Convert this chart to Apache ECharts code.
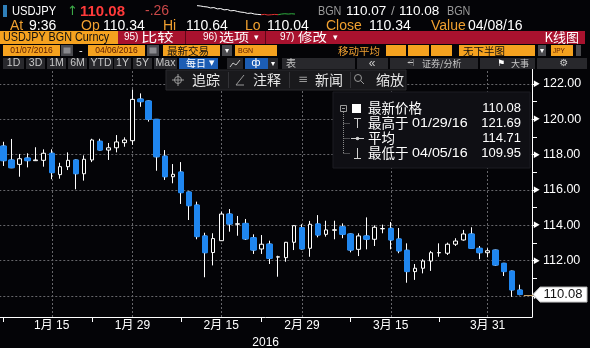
<!DOCTYPE html>
<html><head><meta charset="utf-8">
<script src="https://cdn.jsdelivr.net/npm/echarts@6/dist/echarts.min.js"></script>
<style>html,body{margin:0;padding:0;background:#040407;}#c{width:590px;height:348px;}</style>
</head><body><div id="c"></div>
<script>
// ---- data ----
const dates = ['01/07','01/08','01/11','01/12','01/13','01/14','01/15','01/18','01/19','01/20','01/21','01/22','01/25','01/26','01/27','01/28','01/29',
'02/01','02/02','02/03','02/04','02/05','02/08','02/09','02/10','02/11','02/12','02/15','02/16','02/17','02/18','02/19','02/22','02/23','02/24','02/25','02/26','02/29',
'03/01','03/02','03/03','03/04','03/07','03/08','03/09','03/10','03/11','03/14','03/15','03/16','03/17','03/18','03/21','03/22','03/23','03/24','03/25','03/28','03/29','03/30','03/31',
'04/01','04/04','04/05','04/06'];
const opens  = [118.49,117.70,117.45,117.81,117.66,117.68,118.08,116.87,117.32,117.70,116.92,117.70,118.76,118.26,118.39,118.68,118.79,
121.15,121.04,120.00,117.92,116.75,117.02,115.89,115.15,113.40,112.46,113.13,114.64,114.06,114.11,113.30,112.66,112.94,112.20,112.17,113.04,113.87,
112.70,114.08,113.49,113.72,113.92,113.51,112.64,113.40,113.21,113.80,113.83,113.23,112.59,111.38,111.57,111.98,112.44,112.42,112.93,113.17,113.51,112.70,112.45,
112.60,111.85,111.41,110.34];
const closes = [117.66,117.26,117.77,117.66,117.70,118.08,116.98,117.32,117.68,116.92,117.74,118.83,118.26,118.39,118.72,118.83,121.13,
121.00,120.00,117.88,116.75,116.89,115.85,115.11,113.36,112.45,113.25,114.64,114.07,114.09,113.23,112.60,112.93,112.13,112.22,113.04,113.98,112.66,
114.06,113.45,113.74,113.75,113.49,112.60,113.40,113.21,113.89,113.82,113.17,112.55,111.38,111.57,111.98,112.45,112.46,112.93,113.11,113.51,112.70,112.45,112.56,
111.75,111.38,110.34,110.08];
const lows   = [117.36,117.24,116.75,117.28,117.64,117.32,116.61,116.64,117.13,116.04,116.53,117.58,118.24,117.70,118.13,118.45,118.55,
120.71,119.87,117.09,116.57,116.38,115.21,114.30,113.21,111.06,111.73,113.11,113.64,113.41,113.17,112.38,112.38,111.81,111.09,111.94,112.60,112.64,
112.22,113.32,113.36,113.21,113.27,112.47,112.26,112.64,112.83,113.55,112.64,112.42,110.75,110.91,111.28,111.42,112.22,112.32,112.83,113.13,112.68,112.08,112.19,
111.70,111.13,109.95,110.04];
const highs  = [118.73,118.89,118.04,118.08,118.42,118.30,118.30,117.54,118.13,117.72,117.96,118.90,118.90,118.66,119.11,118.98,121.69,
121.47,121.06,120.02,118.26,117.47,117.58,115.91,115.34,113.58,113.55,114.77,114.92,114.53,114.36,113.49,113.45,113.13,112.28,113.06,114.00,114.06,
114.25,114.58,114.26,114.26,114.11,113.53,113.55,114.45,114.00,114.04,114.19,113.85,112.98,111.81,112.08,112.55,112.98,113.02,113.27,113.74,113.89,112.83,112.70,
112.62,111.87,111.43,110.64];
const yLabelValues = [110,112,114,116,118,120,122];
const yTickValues = [110,111,112,113,114,115,116,117,118,119,120,121,122];
const xLabelDates = ['01/15','01/29','02/15','02/29','03/15','03/31'];
const xLabelTexts = ['1月 15','1月 29','2月 15','2月 29','3月 15','3月 31'];
const xTickDates = ['01/07','01/22','02/08','02/22','03/08','03/23'];
const yearLabel = '2016';
const lastPrice = 110.08;
const legendRows = [
  {name:'最新价格', date:'', value:'110.08'},
  {name:'最高于', date:'01/29/16', value:'121.69'},
  {name:'平均', date:'', value:'114.71'},
  {name:'最低于', date:'04/05/16', value:'109.95'}
];
const sparkWhite = [110.40,110.39,110.37,110.36,110.33,110.34,110.30,110.31,110.27,110.28,110.24,110.25,110.22,110.20,110.19,110.16,110.17,110.14,110.13,110.12,'-','-','-','-','-','-','-','-','-','-'];
const sparkRed   = ['-','-','-','-','-','-','-','-','-','-','-','-','-','-','-','-','-','-','-',110.12,110.13,110.11,110.12,110.13,110.12,'-','-','-','-','-'];
const sparkGreen = ['-','-','-','-','-','-','-','-','-','-','-','-','-','-','-','-','-','-','-','-','-','-','-','-',110.12,110.14,110.15,110.14,110.15,110.14];

// ---- chart ----
const chart = echarts.init(document.getElementById('c'));
const F = "'Liberation Sans','Noto Sans CJK SC',sans-serif";
const CJ = "'Noto Sans CJK SC','Liberation Sans',sans-serif";
const DV = "'DejaVu Sans',sans-serif";
const BLUE = '#1f86ef';
const ORANGE = '#f5a21f';

const candleData = opens.map((o,i)=>[o, closes[i], lows[i], highs[i]]);
const downBodies = opens.map((o,i)=> closes[i] < o ? [o, closes[i], closes[i], o] : '-');
const cats = dates.concat(['']);
const labelIdx = xLabelDates.map(d=>dates.indexOf(d));
const tickIdx = xTickDates.map(d=>dates.indexOf(d));

chart.setOption({
  animation:false,
  backgroundColor:'#040407',
  grid:[
    {left:-0.7, right:58, top:69, bottom:31, outerBoundsMode:'none', containLabel:false},
    {left:197, top:5, width:98, height:11, outerBoundsMode:'none'}
  ],
  xAxis:[{
    type:'category', data:cats, boundaryGap:true,
    axisLine:{show:true, onZero:false, lineStyle:{color:'#ffffff', width:1}},
    axisTick:{show:true, alignWithLabel:true, interval:(i)=>tickIdx.indexOf(i)>=0, length:5, lineStyle:{color:'#ffffff'}},
    axisLabel:{interval:(i)=>labelIdx.indexOf(i)>=0, formatter:(v)=>xLabelTexts[xLabelDates.indexOf(v)]||'', color:'#ffffff', fontSize:12, fontFamily:F, margin:3},
    splitLine:{show:false},
    name:yearLabel, nameLocation:'middle', nameGap:18, nameTextStyle:{color:'#ffffff', fontSize:12, fontFamily:F}
  },{
    type:'category', gridIndex:1, data:sparkWhite.map((v,i)=>i), show:false, boundaryGap:false
  }],
  yAxis:[{
    type:'value', position:'right', min:108.81, max:122.85,
    splitLine:{show:false},
    axisLine:{show:true, lineStyle:{color:'#ffffff', width:1}},
    axisTick:{show:true, customValues:yTickValues, length:5, lineStyle:{color:'#ffffff'}},
    axisLabel:{customValues:yLabelValues, formatter:(v)=>'{a|▶}'+v.toFixed(2), color:'#ffffff', fontSize:12.5, fontFamily:F, margin:1,
      rich:{a:{fontSize:7, color:'#ffffff', padding:[0,3,0,0]}}}
  },{
    type:'value', gridIndex:1, min:110.08, max:110.42, show:false
  }],
  series:[{
    type:'candlestick', name:'A', data:candleData, barWidth:4, z:2,
    itemStyle:{color:'#000000', color0:BLUE, borderColor:'#ffffff', borderColor0:'#ffffff', borderWidth:1},
    emphasis:{disabled:true},
    markLine:{
      silent:true, z:1, symbol:['none','none'], animation:false,
      label:{show:false}, emphasis:{disabled:true},
      lineStyle:{type:[2,2], color:'#66666a', width:1},
      data: yLabelValues.map(v=>({yAxis:v})).concat(xLabelDates.map(d=>({xAxis:d})))
    }
  },{
    type:'candlestick', name:'B', data:downBodies, barWidth:6, z:3,
    itemStyle:{color:BLUE, color0:BLUE, borderColor:BLUE, borderColor0:BLUE, borderWidth:1},
    emphasis:{disabled:true}
  },{
    type:'line', xAxisIndex:1, yAxisIndex:1, data:sparkWhite, symbol:'none', lineStyle:{color:'#ffffff', width:1}
  },{
    type:'line', xAxisIndex:1, yAxisIndex:1, data:sparkRed, symbol:'none', lineStyle:{color:'#e03030', width:1}
  },{
    type:'line', xAxisIndex:1, yAxisIndex:1, data:sparkGreen, symbol:'none', lineStyle:{color:'#30b040', width:1}
  }]
});

// ---- overlay graphics ----
const G = [];
function R(x,y,w,h,fill,stroke){ G.push({type:'rect', shape:{x,y,width:w,height:h}, style:{fill, stroke:stroke||null, lineWidth:1}, z:100}); }
function T(x,y,text,color,size,o){ o=o||{}; G.push({type:'text', x, y, scaleX:o.sx||1, z:101,
  style:{text, fill:color, font:(o.bold?'bold ':'')+size+'px '+(o.ff||F), align:o.align||'left', verticalAlign:'middle'}}); }
function L(x1,y1,x2,y2,c,dash){ G.push({type:'line', shape:{x1,y1,x2,y2}, style:{stroke:c, lineWidth:1, lineDash:dash||null}, z:101}); }

// row 1
R(3,5,4,12,'#2f7fb9');
T(12,11.5,'USDJPY','#ffffff',13,{sx:0.86});
T(67,11.5,'↑','#3daa48',13,{ff:DV});
T(80,11.5,'110.08','#ff3a3a',15,{bold:true});
T(145,11.5,'-.26','#c94848',14);
T(318,11.5,'BGN','#9a9a9a',12,{sx:0.9});
T(346,11.5,'110.07','#ffffff',13.5);
T(391,11.5,'/','#9a9a9a',13.5);
T(399,11.5,'110.08','#ffffff',13.5);
T(447,11.5,'BGN','#9a9a9a',12,{sx:0.9});
// row 2
const OR = '#f0a030';
T(10,26,'At',OR,14); T(29,26,'9:36','#ffffff',14);
T(81,26,'Op',OR,14); T(103,26,'110.34','#ffffff',14);
T(163,26,'Hi',OR,14); T(186,26,'110.64','#ffffff',14);
T(245,26,'Lo',OR,14); T(267,26,'110.04','#ffffff',14);
T(326,26,'Close',OR,14); T(369,26,'110.34','#ffffff',14);
T(431,26,'Value',OR,14); T(468,26,'04/08/16','#ffffff',14);
// row 3
R(0,31,118,13,ORANGE);
T(3,37.5,'USDJPY BGN Curncy','#111111',12,{sx:0.9});
R(118,31,467,13,'#a8122e');
L(185.5,31,185.5,44,'#5e0616'); L(265.5,31,265.5,44,'#5e0616');
T(124,37.5,'95)','#ffffff',10); T(141,37.5,'比较','#ffffff',12.5,{ff:CJ, sx:1.3});
T(203,37.5,'96)','#ffffff',10); T(219,37.5,'选项','#ffffff',12.5,{ff:CJ, sx:1.2}); T(254,37.5,'▾','#ffffff',9,{ff:DV});
T(280,37.5,'97)','#ffffff',10); T(298,37.5,'修改','#ffffff',12.5,{ff:CJ, sx:1.15}); T(333,37.5,'▾','#ffffff',9,{ff:DV});
T(579,37.5,'K线图','#ffffff',13,{ff:CJ, align:'right'});
// row 4
R(3,45,57,11,ORANGE); T(31.5,51,'01/07/2016','#5a1a00',8.5,{align:'center'});
R(61,45,12,11,'#4a4a4e'); R(63.5,47.5,7,6,'#8a8a8e');
T(79,51,'-','#ffffff',11);
R(88,45,57,11,ORANGE); T(116.5,51,'04/06/2016','#5a1a00',8.5,{align:'center'});
R(147,45,12,11,'#4a4a4e'); R(149.5,47.5,7,6,'#8a8a8e');
R(163,45,57,11,ORANGE); T(167,51,'最新交易','#111111',10.5,{ff:CJ});
R(222,45,10,11,'#4a4a4e'); T(227,51,'▾','#ffffff',8,{align:'center', ff:DV});
R(235,45,42,11,ORANGE); T(238,51,'BGN','#5a1a00',7);
T(338,51,'移动平均',OR,10.5,{ff:CJ});
R(386,45,20,11,ORANGE); R(408,45,21,11,ORANGE); R(431,45,21,11,ORANGE);
R(459,45,76,11,ORANGE); T(463,51,'无下半图','#111111',10.5,{ff:CJ});
R(538,45,8,11,'#4a4a4e'); T(542,51,'▾','#ffffff',8,{align:'center', ff:DV});
R(551,45,22,11,ORANGE); T(553,51,'JPY','#5a1a00',6.5);
R(576,45,5,11,'#4a4a4e');
// row 5
const BTN = '#28282c', BT = '#c8c8c8';
[[3,21,'1D'],[26,19,'3D'],[47,19,'1M'],[68,19,'6M'],[89,24,'YTD'],[114,17,'1Y'],[133,19,'5Y'],[154,23,'Max']].forEach(b=>{
  R(b[0],58,b[1],11,BTN); T(b[0]+b[1]/2,63.5,b[2],BT,10.5,{align:'center'});
});
R(179,58,39,11,'#1c5db4'); T(186,63.5,'每日','#ffffff',10,{ff:CJ}); T(209,63.5,'▼','#ffffff',7,{ff:DV});
R(227,58,16,11,BTN); G.push({type:'polyline', shape:{points:[[230,67],[233,63],[236,65],[240,60]]}, style:{stroke:'#c8c8c8', lineWidth:1, fill:null}, z:101});
R(245,58,23,11,'#1c5db4'); T(256,63.5,'ф','#ffffff',11,{align:'center', ff:DV});
R(268,58,10,11,BTN); T(273,63.5,'▾','#ffffff',8,{align:'center', ff:DV});
R(282,58,73,11,BTN); T(286,63.5,'表','#c8c8c8',10,{ff:CJ});
R(357,58,31,11,BTN); T(372,63.5,'«','#c8c8c8',12,{align:'center'});
R(390,58,88,11,BTN); T(407,63.5,'⩤','#c8c8c8',9,{ff:DV}); T(422,63.5,'证券/分析','#c8c8c8',9,{ff:CJ});
R(480,58,55,11,BTN); T(497,63.5,'⚑','#ffffff',9,{ff:DV}); T(511,63.5,'大事','#c8c8c8',9,{ff:CJ});
R(537,58,50,11,BTN); T(564,63.5,'⚙','#c8c8c8',10,{align:'center', ff:DV});
// floating toolbar
R(166,70,240,20,'#19191c','#2a2a2e');
G.push({type:'circle', shape:{cx:178,cy:80,r:3.5}, style:{stroke:'#9a9a9a', fill:null, lineWidth:1}, z:101});
L(172,80,184,80,'#9a9a9a'); L(178,74,178,86,'#9a9a9a');
T(192,80,'追踪','#e6e6e6',14,{ff:CJ});
L(228.5,72,228.5,88,'#333337');
L(236,85,244,75,'#9a9a9a'); L(236,85,244,85,'#9a9a9a');
T(253,80,'注释','#e6e6e6',14,{ff:CJ});
L(289.5,72,289.5,88,'#333337');
T(298,80,'≡','#9a9a9a',12,{ff:DV});
T(315,80,'新闻','#e6e6e6',14,{ff:CJ});
L(350.5,72,350.5,88,'#333337');
G.push({type:'circle', shape:{cx:358,cy:78,r:3.5}, style:{stroke:'#9a9a9a', fill:null, lineWidth:1}, z:101});
L(360.5,80.5,364,84,'#9a9a9a');
T(376,80,'缩放','#e6e6e6',14,{ff:CJ});
// legend box
R(333,92,197,76,'#0f0f14','#1c1c22');
const rowsY = [108,123,138,153];
R(340.5,105.5,6,6,null,'#9a9a9a'); L(342,108.5,345,108.5,'#9a9a9a');
L(343.5,112,343.5,153,'#8a8a8a',[1,1]);
[123,138,153].forEach(y=>L(343.5,y+0.5,350,y+0.5,'#8a8a8a',[1,1]));
R(352,104,9,9,'#ffffff');
L(357.5,118,357.5,128,'#d0d0d0'); L(354,118.5,361,118.5,'#d0d0d0');
L(351,138.5,364,138.5,'#d0d0d0'); G.push({type:'circle', shape:{cx:357.5,cy:138.5,r:1.8}, style:{fill:'#d0d0d0'}, z:101});
L(357.5,148,357.5,158,'#d0d0d0'); L(354,158.5,361,158.5,'#d0d0d0');
legendRows.forEach((r,i)=>{
  T(368,rowsY[i],r.name,'#ffffff',13.5,{ff:CJ});
  if(r.date) T(412,rowsY[i],r.date,'#ffffff',13,{sx:1.1});
  T(521,rowsY[i],r.value,'#ffffff',13,{align:'right'});
});

// last price tag
const py = chart.convertToPixel({yAxisIndex:0}, lastPrice);
const px = chart.convertToPixel({xAxisIndex:0}, dates[dates.length-1]);
L(px+4, Math.round(py)+0.5, 533, Math.round(py)+0.5, '#c8a268');
G.push({type:'polygon', shape:{points:[[533,py],[540,py-7.5],[587,py-7.5],[587,py+7.5],[540,py+7.5]]}, style:{fill:'#ffffff', stroke:'#bdbdbd', lineWidth:1}, z:102});
G.push({type:'text', x:563, y:py, z:103, style:{text:lastPrice.toFixed(2), fill:'#111111', font:'13px '+F, align:'center', verticalAlign:'middle'}});

chart.setOption({graphic:G});
</script></body></html>
